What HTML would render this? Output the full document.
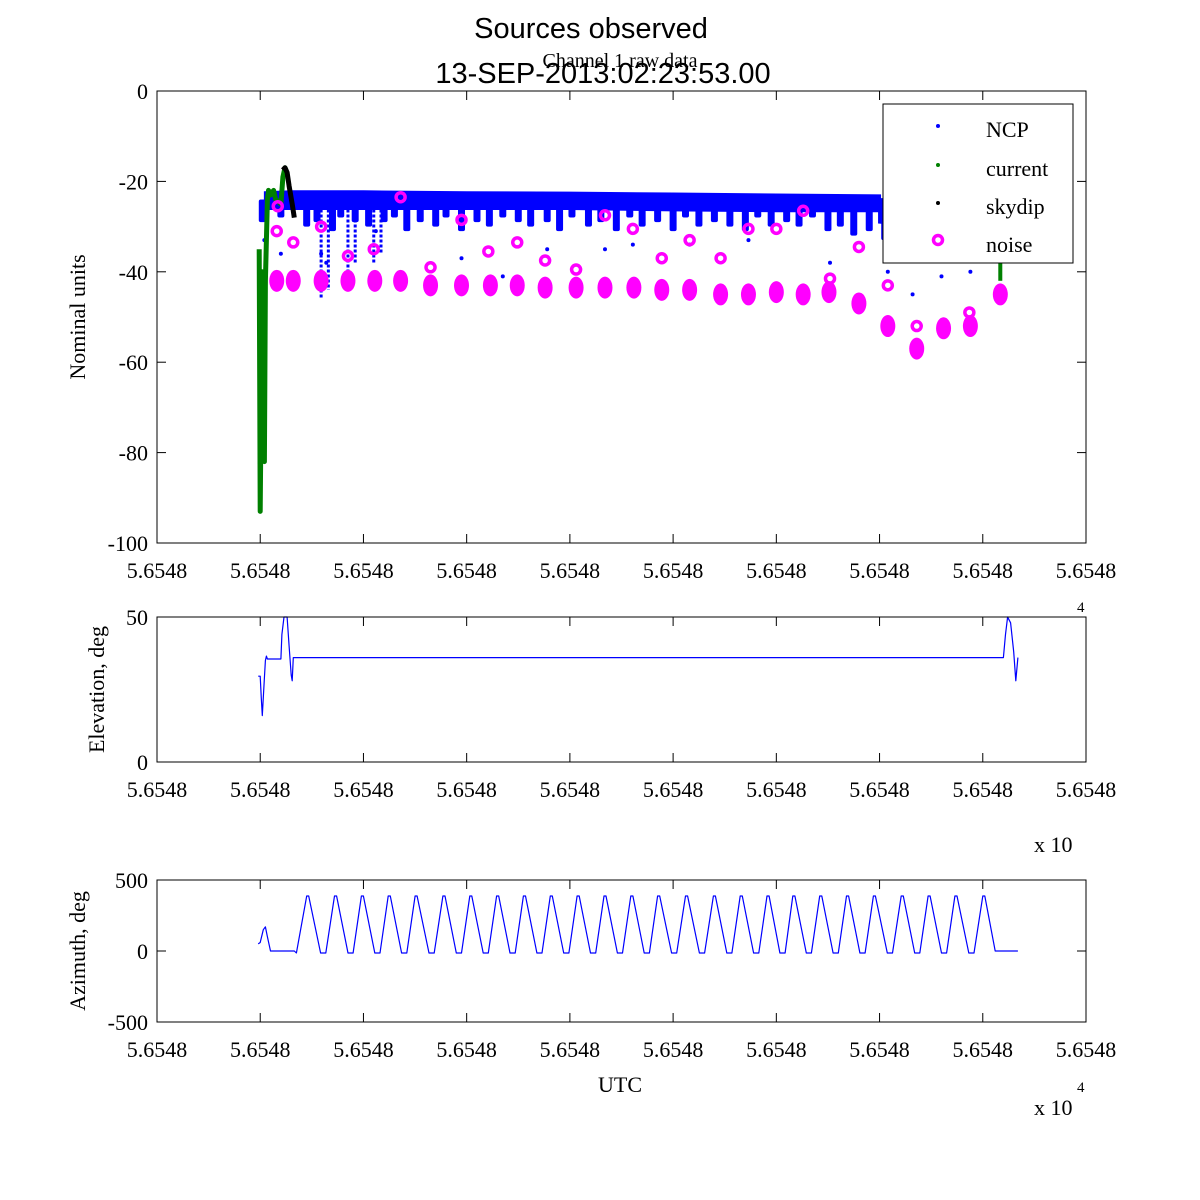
<!DOCTYPE html>
<html><head><meta charset="utf-8"><style>
html,body{margin:0;padding:0;background:#fff;}
svg{display:block;}
.tk{font-family:"Liberation Serif",serif;font-size:22px;fill:#000;}
.ttl{font-family:"Liberation Sans",sans-serif;font-size:29px;fill:#000;}
</style></head><body>
<svg id="fig" width="1200" height="1200" viewBox="0 0 1200 1200" xmlns="http://www.w3.org/2000/svg">
<rect width="1200" height="1200" fill="#fff"/>
<text class="ttl" x="591" y="38" text-anchor="middle">Sources observed</text>
<text class="tk" x="620" y="67" text-anchor="middle" style="font-size:20px">Channel 1 raw data</text>
<text class="ttl" x="603" y="83" text-anchor="middle">13-SEP-2013:02:23:53.00</text>
<g id="g1"></g><g id="g2"></g><g id="g3"></g>
</svg>
<script>
// ---- data (x in tick units from left edge of axis, 0..9) ----
const xTickLabels = ["5.6548","5.6548","5.6548","5.6548","5.6548","5.6548","5.6548","5.6548","5.6548","5.6548"];
const yTicks1 = [0,-20,-40,-60,-80,-100];
const yTicks2 = [0,50];
const yTicks3 = [-500,0,500];
const noiseClusterX = [1.16,1.32,1.59,1.85,2.11,2.36,2.65,2.95,3.23,3.49,3.76,4.06,4.34,4.62,4.89,5.16,5.46,5.73,6.00,6.26,6.51,6.80,7.08,7.36,7.62,7.88,8.17];
const noiseClusterY = [-42,-42,-42,-42,-42,-42,-43,-43,-43,-43,-43.5,-43.5,-43.5,-43.5,-44,-44,-45,-45,-44.5,-45,-44.5,-47,-52,-57,-52.5,-52,-45];
const noiseX = [1.16,1.17,1.32,1.59,1.85,2.10,2.36,2.65,2.95,3.21,3.49,3.76,4.06,4.34,4.61,4.89,5.16,5.46,5.73,6.00,6.26,6.52,6.80,7.08,7.36,7.87];
const noiseY = [-31,-25.5,-33.5,-30,-36.5,-35,-23.5,-39,-28.5,-35.5,-33.5,-37.5,-39.5,-27.5,-30.5,-37,-33,-37,-30.5,-30.5,-26.5,-41.5,-34.5,-43,-52,-49];
const ncpBandX = [1.05,1.3,2,3,4,5,6,7,7.0,7.5,8.0,8.2];
const ncpTop = [-22.5,-22.3,-22.3,-22.5,-22.6,-22.8,-23,-23.2,-24,-24.2,-24.3,-24.5];
const ncpBottom = [-26,-26,-26,-26,-26,-26.3,-26.5,-26.5,-29,-30,-30,-29];
const spikeX = [1.02,1.2,1.45,1.55,1.7,1.78,1.92,2.05,2.2,2.3,2.42,2.55,2.7,2.8,2.95,3.1,3.22,3.35,3.5,3.62,3.78,3.9,4.02,4.18,4.3,4.45,4.58,4.7,4.85,5.0,5.12,5.25,5.4,5.55,5.7,5.82,5.95,6.1,6.22,6.35,6.5,6.62,6.75,6.9,7.05,7.2,7.35,7.5,7.62,7.75,7.9,8.05];
const spikeY = [-29,-28,-30,-29,-31,-28,-29,-30,-29,-28,-31,-29,-30,-28,-31,-29,-30,-28,-29,-30,-29,-31,-28,-30,-29,-31,-28,-30,-29,-31,-28,-30,-29,-30,-31,-28,-30,-29,-30,-28,-31,-30,-32,-31,-33,-32,-34,-32,-33,-35,-34,-33];
const longSpikeX = [1.59,1.66,1.85,1.92,2.1,2.17];
const longSpikeY = [-46,-44,-40,-38,-38,-36];
const ncpDotX = [1.04,1.2,1.59,1.64,2.12,2.95,3.35,3.78,4.34,4.61,5.16,5.73,6.52,7.08,7.32,7.6,7.88];
const ncpDotY = [-33,-36,-36,-38,-31,-37,-41,-35,-35,-34,-34,-33,-38,-40,-45,-41,-40];
const curX = [0.99,1.0,1.02,1.04,1.05,1.07,1.08,1.1,1.13,1.15,1.2,1.22,1.24,1.25];
const curY = [-35,-93,-40,-82,-42,-24,-22,-23,-22,-24,-25,-19,-17,-17.5];
const skyX = [1.22,1.24,1.26,1.28,1.31,1.33];
const skyY = [-17.5,-17,-18,-21,-25,-28];
const cur2X = [8.17,8.17];
const cur2Y = [-38,-42];
const elX = [0.98,1.0,1.01,1.02,1.04,1.05,1.06,1.07,1.09,1.2,1.21,1.23,1.26,1.28,1.3,1.31,1.32,1.34,8.2,8.22,8.24,8.27,8.3,8.32,8.34];
const elY = [29.6,29.6,22,16,29,35,36.5,35.5,35.5,35.5,44,50,50,40,30,28,36,36,36,44,50,48,38,28,36];
const azX = [0.98,1.0,1.03,1.05,1.07,1.1,1.15,1.2,1.33,1.35];
const azY = [50,60,150,170,100,0,0,0,0,-14];
const azPeakX = [1.45,1.72,1.98,2.24,2.5,2.77,3.03,3.29,3.55,3.81,4.07,4.33,4.59,4.85,5.12,5.39,5.65,5.91,6.16,6.42,6.68,6.94,7.21,7.47,7.73,8.0];
const azPeakY = [387,387,387,387,387,387,387,387,387,387,387,387,387,387,387,387,387,387,387,387,387,387,387,387,387,387];
const azTroughY = -14;
const azEndX = [8.12,8.15,8.34];
const azEndY = [0,0,0];

const NS="http://www.w3.org/2000/svg";
const X0=157,X1=1086;
function sx(v){return X0+(X1-X0)*v/9;}
function mk(parent,tag,attrs){const e=document.createElementNS(NS,tag);for(const k in attrs)e.setAttribute(k,attrs[k]);parent.appendChild(e);return e;}

function axes(g,top,bot,ymin,ymax,yticks,ylabel,lx,name){
  const sy=v=>bot-(v-ymin)/(ymax-ymin)*(bot-top);
  const plot=mk(g,'g',{});
  
  
  const fr=mk(g,'rect',{x:X0,y:top,width:X1-X0,height:bot-top,fill:'none',stroke:'#000','stroke-width':1});
  
  
  for(let i=0;i<10;i++){
    const x=sx(i);
    mk(g,'line',{x1:x,x2:x,y1:bot,y2:bot-9,stroke:'#000'});
    mk(g,'line',{x1:x,x2:x,y1:top,y2:top+9,stroke:'#000'});
    const t=mk(g,'text',{x:x,y:bot+35,'text-anchor':'middle',class:'tk'});
    t.textContent=xTickLabels[i];
    
    
  }
  yticks.forEach(v=>{
    const y=sy(v);
    mk(g,'line',{x1:X0,x2:X0+9,y1:y,y2:y,stroke:'#000'});
    mk(g,'line',{x1:X1,x2:X1-9,y1:y,y2:y,stroke:'#000'});
    const t=mk(g,'text',{x:148,y:y+8,'text-anchor':'end',class:'tk'});
    t.textContent=String(v);
    
    
  });
  const cy=(top+bot)/2;
  const yl=mk(g,'text',{x:lx,y:cy,'text-anchor':'middle',class:'tk',transform:`rotate(-90 ${lx} ${cy})`});
  yl.textContent=ylabel;
  
  
  return {sy,plot};
}
function poly(g,xs,ys,sy,color,w){
  let d=xs.map((x,i)=>(i?'L':'M')+sx(x).toFixed(1)+','+sy(ys[i]).toFixed(1)).join('');
  return mk(g,'path',{d:d,fill:'none',stroke:color,'stroke-width':w,'stroke-linejoin':'round'});
}

const g1=document.getElementById('g1');
const A=axes(g1,91,543,-100,0,yTicks1,'Nominal units',85,'raw-data');
const p=A.plot, sy=A.sy;
let d='M'+ncpBandX.map((x,i)=>sx(x)+','+sy(ncpTop[i])).join('L');
for(let i=ncpBandX.length-1;i>=0;i--) d+='L'+sx(ncpBandX[i])+','+sy(ncpBottom[i]);
const band=mk(p,'path',{d:d+'Z',fill:'#0000ff',stroke:'#0000ff','stroke-width':3});


spikeX.forEach((x,i)=>{
  const r=mk(p,'rect',{x:sx(x)-3.5,y:sy(-24),width:7,height:sy(spikeY[i])-sy(-24),fill:'#0000ff',rx:2});
  
  
});
longSpikeX.forEach((x,i)=>{
  const r=mk(p,'line',{x1:sx(x),x2:sx(x),y1:sy(-24),y2:sy(longSpikeY[i]),stroke:'#0000ff','stroke-width':3,'stroke-dasharray':'3 2'});
  
  
});
ncpDotX.forEach((x,i)=>{
  const c=mk(p,'circle',{cx:sx(x),cy:sy(ncpDotY[i]),r:2,fill:'#0000ff'});
  
  
});
const cl=poly(p,curX,curY,sy,'#008000',5);


const cl2=poly(p,cur2X,cur2Y,sy,'#008000',4);


const sk=poly(p,skyX,skyY,sy,'#000',5);


noiseClusterX.forEach((x,i)=>{
  const e=mk(p,'ellipse',{cx:sx(x),cy:sy(noiseClusterY[i]),rx:7.5,ry:11,fill:'#ff00ff'});
  
  
});
noiseX.forEach((x,i)=>{
  const c=mk(p,'circle',{cx:sx(x),cy:sy(noiseY[i]),r:4.5,fill:'none',stroke:'#ff00ff','stroke-width':3.5});
  
  
});
const lg=mk(g1,'g',{});


mk(lg,'rect',{x:883,y:104,width:190,height:159,fill:'#fff',stroke:'#000'});
const legNames=['NCP','current','skydip','noise'];
const legCols=['#0000ff','#008000','#000','#ff00ff'];
const legY=[130,169,207,245];
legNames.forEach((n,i)=>{
  const e=mk(lg,'g',{});
  
  
  if(n==='noise') mk(e,'circle',{cx:938,cy:legY[i]-5,r:4.5,fill:'none',stroke:'#ff00ff','stroke-width':3.5});
  else mk(e,'circle',{cx:938,cy:legY[i]-4,r:2,fill:legCols[i]});
  const t=mk(e,'text',{x:986,y:legY[i]+7,class:'tk'});
  t.textContent=n;
});

const g2=document.getElementById('g2');
const B=axes(g2,617,762,0,50,yTicks2,'Elevation, deg',104,'elevation');
const el=poly(B.plot,elX,elY,B.sy,'#0000ff',1.2);


let t=mk(g2,'text',{x:1034,y:852,class:'tk'});t.textContent='x 10';


t=mk(g2,'text',{x:1077,y:612,class:'tk',style:'font-size:15px'});t.textContent='4';



const g3=document.getElementById('g3');
const C=axes(g3,880,1022,-500,500,yTicks3,'Azimuth, deg',85,'azimuth');
const ax=azX.slice(), ay=azY.slice();
azPeakX.forEach((x,i)=>{ax.push(x,x+0.02);ay.push(azPeakY[i],azPeakY[i]);
  if(i<azPeakX.length-1){const m=(x+azPeakX[i+1])/2;ax.push(m,m+0.05);ay.push(azTroughY,azTroughY);}});
azEndX.forEach((x,i)=>{ax.push(x);ay.push(azEndY[i]);});
const az=poly(C.plot,ax,ay,C.sy,'#0000ff',1.2);


t=mk(g3,'text',{x:620,y:1092,'text-anchor':'middle',class:'tk'});t.textContent='UTC';


t=mk(g3,'text',{x:1034,y:1115,class:'tk'});t.textContent='x 10';


t=mk(g3,'text',{x:1077,y:1092,class:'tk',style:'font-size:15px'});t.textContent='4';


</script>
</body></html>
